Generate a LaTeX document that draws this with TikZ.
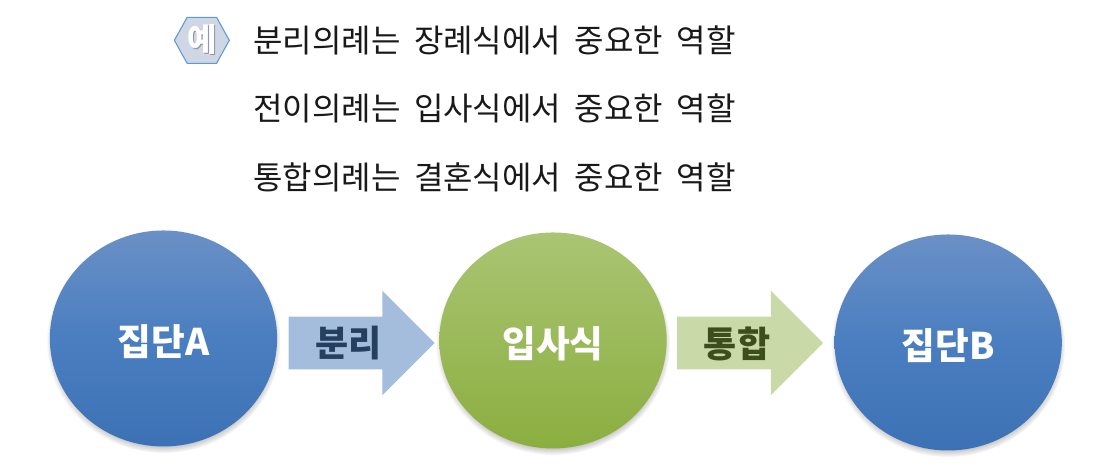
\documentclass[tikz,border=0pt]{standalone}
\usepackage{fontspec}
\setmainfont{Noto Sans CJK KR}
\usetikzlibrary{positioning,shapes,shadows}
\definecolor{bluetop}{HTML}{6A90C6}
\definecolor{bluemid}{HTML}{4A7EC0}
\definecolor{bluebot}{HTML}{3C72B5}
\definecolor{greentop}{HTML}{AAC573}
\definecolor{greenmid}{HTML}{9BBD52}
\definecolor{greenbot}{HTML}{8BAE40}
\definecolor{arrowblue}{HTML}{A5BDDC}
\definecolor{arrowgreen}{HTML}{C9DAA8}
\definecolor{textblue}{HTML}{243F60}
\definecolor{textgreen}{HTML}{3C4E1E}
\definecolor{badgeline}{HTML}{5B9BD5}
\definecolor{badgefill}{HTML}{CFD6E4}
\definecolor{badgeshade}{HTML}{8A93A3}
\newcommand{\badgetext}[1]{\rlap{\kern1.2pt\raisebox{-.8pt}{\textcolor{badgeshade}{#1}}}#1}
\tikzstyle{line}  = [anchor=west, inner sep=0pt, font=\fontsize{24pt}{28pt}\selectfont\spaceskip 10.2pt\relax, text=black!90]
\tikzstyle{group} = [ellipse, inner sep=0pt, minimum width=170.5pt, minimum height=162pt, text height=27pt, text depth=2pt, text=white, font=\fontsize{27.5pt}{32pt}\selectfont\bfseries, top color=bluetop, bottom color=bluebot, middle color=bluemid, circular drop shadow={shadow xshift=0pt, shadow yshift=-2.4pt, shadow scale=1.03, opacity=1}]
\tikzstyle{blockarrow} = [single arrow, inner sep=0pt, text height=30pt, text depth=9pt, minimum height=109.5pt, single arrow head extend=19.5pt, single arrow tip angle=90, font=\fontsize{27pt}{32pt}\selectfont\bfseries]
\tikzstyle{badge} = [signal, signal to=east and west, signal from=nowhere, signal pointer angle=122, draw=badgeline, fill=badgefill, line width=.8pt, inner sep=0pt, minimum width=41pt, minimum height=34.5pt, text=white, font=\fontsize{24pt}{28pt}\selectfont\bfseries]

\begin{document}
\begin{tikzpicture}
    \useasboundingbox (0,0) rectangle (825.75pt,353.25pt);

    \node[line] (line1) at (189.75pt,323pt) {분리의례는 장례식에서 중요한 역할};
    \node[line, below=51pt of line1.west, anchor=west] (line2) {전이의례는 입사식에서 중요한 역할};
    \node[line, below=51.75pt of line2.west, anchor=west] (line3) {통합의례는 결혼식에서 중요한 역할};

    \node[badge, left=17.3pt of line1.west] (mark) {\badgetext{예}};

    \node[group] (groupA) at (122.6pt,99.4pt) {집단A};
    \node[blockarrow, fill=arrowblue, text=textblue, right=8.25pt of groupA, yshift=-3.4pt] (sep) {분리};
    \node[group, right=3pt of sep, yshift=1.9pt, top color=greentop, middle color=greenmid, bottom color=greenbot] (rite) {입사식};
    \node[blockarrow, fill=arrowgreen, text=textgreen, right=7.5pt of rite, yshift=-1.9pt] (join) {통합};
    \node[group, right=8pt of join, yshift=.4pt] (groupB) {집단B};
\end{tikzpicture}
\end{document}
